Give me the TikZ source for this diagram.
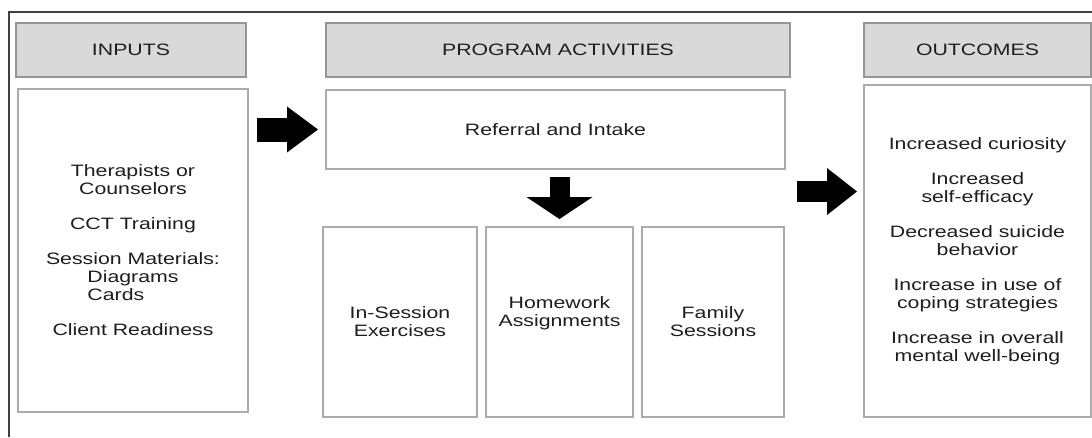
\documentclass[tikz,border=0pt]{standalone}
\usepackage{fontspec}
\setmainfont{Liberation Sans}[FakeStretch=1.29]
\usetikzlibrary{arrows.meta}

\definecolor{headgray}{RGB}{217,217,217}
\definecolor{edgegray}{RGB}{150,150,150}
\definecolor{textgray}{RGB}{30,30,30}

\tikzset{
  txt/.style={font=\fontsize{16.5}{18}\selectfont, text=textgray, align=center},
  headbox/.style={txt, draw=edgegray, line width=1.3pt, fill=headgray,
    minimum height=54pt, inner sep=0pt, outer sep=0pt},
  plainbox/.style={txt, draw=edgegray!80, line width=1.1pt, fill=white,
    inner sep=0pt, outer sep=0pt},
  fatarrow/.style={draw=black, line width=#1, line cap=butt}
}

\begin{document}
\begin{tikzpicture}[x=1pt,y=-1pt]
\useasboundingbox (0,0) rectangle (1092,437);

% outer frame
\draw[black!75, line width=1.2pt] (9,437) -- (9,12) -- (1092,12);

% column headers
\node[headbox, minimum width=230pt] (inhead) at (131,50) {INPUTS};
\node[headbox, minimum width=464pt] (acthead) at (558,50) {PROGRAM ACTIVITIES};
\node[headbox, minimum width=227pt] (outhead) at (977.5,50) {OUTCOMES};

% inputs
\node[plainbox, minimum width=230pt, minimum height=323pt] (inputs) at (133,250.5)
  {Therapists or\\Counselors\\[17pt]
   CCT Training\\[17pt]
   Session Materials:\\
   Diagrams\\
   \rlap{Cards}\phantom{Diagrams}\\[17pt]
   Client Readiness};

% program activities
\node[plainbox, minimum width=459pt, minimum height=79pt] (referral) at (555.5,129.5)
  {Referral and Intake};
\node[plainbox, minimum width=154pt, minimum height=190pt] (insession) at (400,322)
  {In-Session\\Exercises};
\node[plainbox, minimum width=147pt, minimum height=190pt] (homework) at (559.5,322) {};
\node[txt] (hwtext) at ([yshift=9pt]homework.center) {Homework\\Assignments};
\node[plainbox, minimum width=142pt, minimum height=190pt] (family) at (713,322)
  {Family\\Sessions};

% outcomes
\node[plainbox, minimum width=227pt, minimum height=332pt] (outcomes) at (977.5,251)
  {Increased curiosity\\[17pt]
   Increased\\self-efficacy\\[17pt]
   Decreased suicide\\behavior\\[17pt]
   Increase in use of\\coping strategies\\[17pt]
   Increase in overall\\mental well-being};

% block arrows
\coordinate (midrow) at (790,191.5);
\draw[fatarrow=24pt, -{Triangle[length=31pt,width=46pt,line width=0pt]},
  shorten <=9pt, shorten >=8pt] (inputs.east |- referral.west) -- (referral.west);
\draw[fatarrow=20pt, -{Triangle[length=22pt,width=66pt,line width=0pt]},
  shorten <=8pt, shorten >=8pt] (referral.south -| homework.north) -- (homework.north);
\draw[fatarrow=21pt, -{Triangle[length=30pt,width=47pt,line width=0pt]},
  shorten <=7pt, shorten >=7pt] (midrow) -- (outcomes.west |- midrow);
\end{tikzpicture}
\end{document}
